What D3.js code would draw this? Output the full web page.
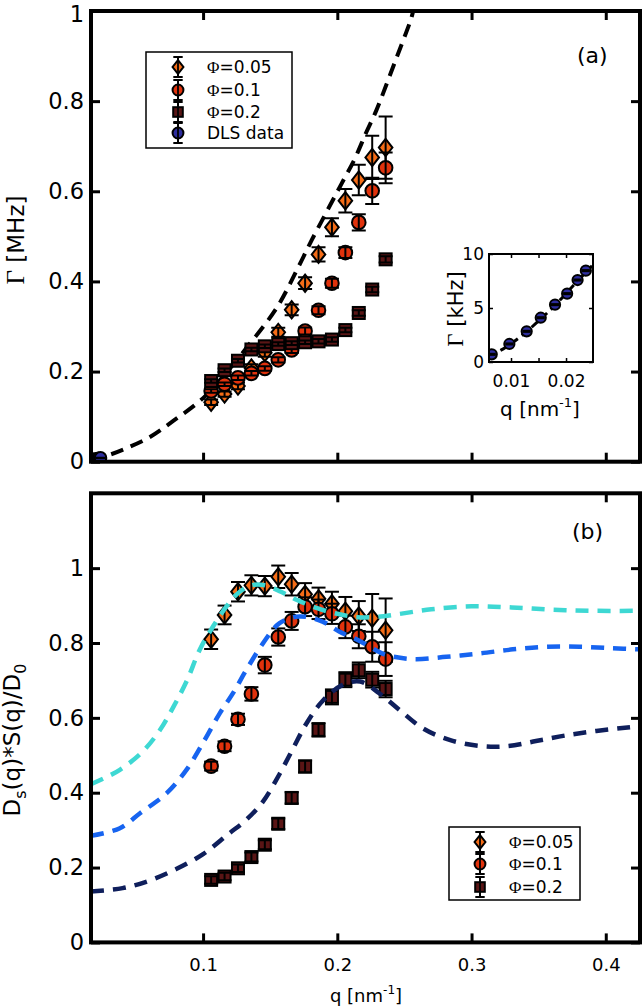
<!DOCTYPE html>
<html><head><meta charset="utf-8">
<script src="https://cdn.jsdelivr.net/npm/d3@7"></script>
<style>body{margin:0;background:#fff}svg{display:block}text{font-family:"DejaVu Sans",sans-serif;fill:#000}</style>
</head><body><svg id="chart" width="642" height="1007"></svg>
<script>
// ---------- data ----------
const qData = [0.106,0.116,0.126,0.136,0.146,0.156,0.166,0.176,0.186,0.196,0.206,0.216,0.226,0.236];
// panel (a): relaxation rate Gamma [MHz]
const gamma005 = [0.132,0.150,0.168,0.208,0.242,0.287,0.337,0.396,0.460,0.520,0.579,0.625,0.675,0.697];
const gamma005Err = [0.006,0.006,0.007,0.008,0.009,0.010,0.012,0.013,0.016,0.020,0.026,0.034,0.048,0.069];
const gamma01 = [0.157,0.172,0.186,0.196,0.207,0.226,0.248,0.290,0.336,0.396,0.464,0.531,0.601,0.652];
const gamma01Err = [0.004,0.004,0.005,0.005,0.005,0.006,0.007,0.008,0.009,0.010,0.012,0.018,0.029,0.034];
const gamma02 = [0.179,0.203,0.224,0.249,0.256,0.261,0.263,0.265,0.267,0.271,0.292,0.330,0.382,0.449];
const gamma02Err = [0.004,0.004,0.004,0.004,0.004,0.004,0.004,0.004,0.005,0.005,0.005,0.006,0.006,0.007];
// free diffusion (dashed) in panel (a)
const freeQ = [0.0165,0.030,0.043,0.060,0.078,0.100,0.118,0.133,0.155,0.171,0.181,0.1925,0.203,0.213,0.2216,0.229,0.2442,0.2549,0.2565];
const freeGamma = [0.004,0.015,0.030,0.054,0.091,0.141,0.200,0.255,0.342,0.432,0.492,0.557,0.616,0.672,0.731,0.779,0.897,0.982,1.0];
// DLS data [kHz]
const dlsQ = [0.0065,0.0097,0.01285,0.0154,0.0180,0.0202,0.0221,0.0236];
const dlsGamma = [0.71,1.67,2.84,4.10,5.31,6.33,7.59,8.46];
const dlsErr = [0.05,0.05,0.05,0.05,0.05,0.05,0.05,0.05];
const dlsFitQ = [0.006,0.009,0.012,0.015,0.018,0.021,0.0249];
const dlsFitGamma = [0.50,1.35,2.45,3.80,5.25,6.90,9.00];
// panel (b): Ds(q)*S(q)/D0
const ds005 = [0.810,0.875,0.937,0.954,0.952,0.977,0.957,0.930,0.918,0.905,0.885,0.872,0.866,0.834];
const ds005Err = [0.026,0.025,0.026,0.027,0.027,0.030,0.030,0.030,0.030,0.032,0.038,0.040,0.065,0.085];
const ds01 = [0.471,0.524,0.596,0.664,0.741,0.816,0.859,0.897,0.890,0.878,0.843,0.818,0.790,0.757];
const ds01Err = [0.012,0.013,0.015,0.018,0.022,0.023,0.024,0.025,0.026,0.027,0.030,0.032,0.040,0.045];
const ds02 = [0.167,0.176,0.198,0.228,0.261,0.317,0.386,0.470,0.568,0.656,0.702,0.727,0.702,0.677];
const ds02Err = [0.010,0.010,0.010,0.012,0.012,0.014,0.015,0.016,0.018,0.020,0.020,0.021,0.021,0.022];
// theory curves (dashed) in panel (b)
const cyanQ = [0.0165,0.027,0.038,0.055,0.068,0.078,0.088,0.0975,0.1074,0.1173,0.125,0.135,0.145,0.158,0.170,0.185,0.200,0.215,0.230,0.245,0.270,0.300,0.330,0.360,0.390,0.4255];
const cyanV = [0.423,0.440,0.461,0.510,0.568,0.630,0.700,0.782,0.844,0.897,0.930,0.953,0.955,0.937,0.915,0.893,0.878,0.869,0.870,0.877,0.890,0.898,0.895,0.889,0.886,0.886];
const blueQ = [0.0165,0.038,0.053,0.0727,0.0876,0.1012,0.1124,0.1223,0.1322,0.1446,0.157,0.172,0.189,0.2017,0.217,0.229,0.2365,0.2563,0.2812,0.3059,0.3308,0.3557,0.3805,0.4052,0.4255];
const blueV = [0.285,0.305,0.345,0.398,0.461,0.541,0.612,0.666,0.728,0.799,0.853,0.871,0.857,0.830,0.805,0.780,0.768,0.757,0.763,0.772,0.783,0.790,0.790,0.786,0.783];
const navyQ = [0.0165,0.040,0.060,0.080,0.100,0.119,0.132,0.1446,0.157,0.167,0.177,0.189,0.204,0.217,0.2315,0.2464,0.2637,0.2836,0.306,0.326,0.348,0.370,0.393,0.418,0.4255];
const navyV = [0.136,0.145,0.165,0.196,0.236,0.290,0.327,0.376,0.450,0.518,0.585,0.645,0.688,0.697,0.665,0.621,0.572,0.541,0.525,0.524,0.538,0.553,0.565,0.575,0.578];
// ticks & labels
const xTicks = [0.1,0.2,0.3,0.4];
const yTicksA = [0,0.2,0.4,0.6,0.8,1];
const yTicksB = [0,0.2,0.4,0.6,0.8,1];
const insetXTicks = [0.01,0.015,0.02];
const insetXLabels = [0.01,0.02];
const insetYTicks = [0,5,10];
const legendLabels = ["=0.05","=0.1","=0.2","DLS data"];

// ---------- styles ----------
const C = {dia:"#f46c17", cir:"#e0320c", sq:"#5a1515", dls:"#2d2d9e", cyan:"#3ed8d3", blue:"#1764f0", navy:"#0f1f5c"};

const svg = d3.select("#chart");
const X0 = 91, X1 = 640;
const x = d3.scaleLinear().domain([0.0165,0.4255]).range([X0,X1]);
const yA = d3.scaleLinear().domain([0,1]).range([461.7,11]);
const yB = d3.scaleLinear().domain([0,1.2]).range([942.4,493.3]);

const defs = svg.append("defs");
function clip(id,x0,y0,x1,y1){defs.append("clipPath").attr("id",id).append("rect").attr("x",x0).attr("y",y0).attr("width",x1-x0).attr("height",y1-y0);}
clip("clipA",X0,yA.range()[1],X1,yA.range()[0]);
clip("clipB",X0,yB.range()[1],X1,yB.range()[0]);

function diamondPath(cx,cy,hw,hh){return `M${cx},${cy-hh}L${cx+hw},${cy}L${cx},${cy+hh}L${cx-hw},${cy}Z`;}
function marker(g,shape,cx,cy,fill,s){
  if(shape==="dia") g.append("path").attr("d",diamondPath(cx,cy,6.8*s,8.6*s)).attr("fill",fill).attr("stroke","#000").attr("stroke-width",2);
  else if(shape==="cir") g.append("circle").attr("cx",cx).attr("cy",cy).attr("r",6.8*s).attr("fill",fill).attr("stroke","#000").attr("stroke-width",2);
  else g.append("rect").attr("x",cx-6*s).attr("y",cy-6*s).attr("width",12*s).attr("height",12*s).attr("fill",fill).attr("stroke","#000").attr("stroke-width",2);
}
function errbar(g,cx,yLo,yHi,hw,w){
  g.append("line").attr("x1",cx).attr("x2",cx).attr("y1",yLo).attr("y2",yHi).attr("stroke","#000").attr("stroke-width",w);
  [yLo,yHi].forEach(yy=>g.append("line").attr("x1",cx-hw).attr("x2",cx+hw).attr("y1",yy).attr("y2",yy).attr("stroke","#000").attr("stroke-width",w));
}
function series(g,xs,qs,vs,es,ys,shape,fill,s,capHw){
  const gg=g.append("g");
  qs.forEach((q,i)=>{
    marker(gg,shape,xs(q),ys(vs[i]),fill,s);
    errbar(gg,xs(q),ys(vs[i]-es[i]),ys(vs[i]+es[i]),capHw,2);
  });
}
function dashed(g,xs,ys,qs,vs,color,w,dash){
  const line=d3.line().x(d=>xs(d[0])).y(d=>ys(d[1])).curve(d3.curveCatmullRom.alpha(0.5));
  g.append("path").datum(qs.map((q,i)=>[q,vs[i]])).attr("d",line).attr("fill","none")
   .attr("stroke",color).attr("stroke-width",w).attr("stroke-dasharray",dash);
}
function axes(ys,yTicks,showXLabels){
  const [yb,yt]=ys.range();
  const st=g=>{g.select(".domain").remove();g.selectAll(".tick line").attr("stroke","#000").attr("stroke-width",3);};
  svg.append("g").attr("transform",`translate(${X0},0)`)
    .call(d3.axisLeft(ys).tickValues(yTicks).tickSize(-9).tickPadding(7).tickFormat(d3.format("~g")))
    .call(st).call(g=>g.selectAll("text").attr("font-size",22.5).attr("font-family","DejaVu Sans")
      .attr("dy",d=>(ys(d)<30?"0.48em":"0.32em")));
  svg.append("g").attr("transform",`translate(${X1},0)`)
    .call(d3.axisRight(ys).tickValues(yTicks).tickSize(-9).tickFormat(""))
    .call(st);
  svg.append("g").attr("transform",`translate(0,${yt})`)
    .call(d3.axisTop(x).tickValues(xTicks).tickSize(-9).tickFormat(""))
    .call(st);
  svg.append("g").attr("transform",`translate(0,${yb})`)
    .call(d3.axisBottom(x).tickValues(xTicks).tickSize(-9).tickPadding(16).tickFormat(showXLabels?d3.format("~g"):""))
    .call(st).call(g=>g.selectAll("text").attr("font-size",18).attr("font-family","DejaVu Sans"));
  svg.append("rect").attr("x",X0).attr("y",yt).attr("width",X1-X0).attr("height",yb-yt)
    .attr("fill","none").attr("stroke","#000").attr("stroke-width",4);
}

// ---------- panel (a) ----------
const gA = svg.append("g").attr("clip-path","url(#clipA)");
dashed(gA,x,yA,freeQ,freeGamma,"#000",4,"13,8");
series(gA,x,qData,gamma005,gamma005Err,yA,"dia",C.dia,1,7);
series(gA,x,qData,gamma01,gamma01Err,yA,"cir",C.cir,1,7);
series(gA,x,qData,gamma02,gamma02Err,yA,"sq",C.sq,1,7);
series(gA,x,dlsQ,dlsGamma.map(v=>v/1000),dlsErr.map(v=>v/1000),yA,"cir",C.dls,0.85,5);
axes(yA,yTicksA,false);

// legend (a)
const legA = svg.append("g");
legA.append("rect").attr("x",146).attr("y",52).attr("width",146).attr("height",96).attr("fill","#fff").attr("stroke","#000").attr("stroke-width",1.5);
const legRowsA=[67,90,112,133];
const legShapes=["dia","cir","sq","cir"], legFills=[C.dia,C.cir,C.sq,C.dls];
legRowsA.forEach((yy,i)=>{
  errbar(legA,178,yy-10,yy+10,4.5,1.8);
  marker(legA,legShapes[i],178,yy,legFills[i],0.8);
  errbar(legA,178,yy-10,yy+10,4.5,1.8);
  const t=legA.append("text").attr("x",207).attr("y",yy+6).attr("font-size",17);
  if(i<3){t.append("tspan").attr("font-family","Liberation Serif").attr("font-size",17).text("Φ");}
  t.append("tspan").text(legendLabels[i]);
});
svg.append("text").attr("x",577).attr("y",63).attr("font-size",22).text("(a)");
// y label (a)
const ylA = svg.append("text").attr("transform","translate(24,240) rotate(-90)").attr("text-anchor","middle").attr("font-size",23);
ylA.append("tspan").attr("font-family","Liberation Serif").attr("font-size",25).text("Γ");
ylA.append("tspan").text(" [MHz]");

// inset
const xi = d3.scaleLinear().domain([0.006,0.0249]).range([489,593]);
const yi = d3.scaleLinear().domain([0,10]).range([362,254]);
defs.append("clipPath").attr("id","clipI").append("rect").attr("x",489).attr("y",254).attr("width",104).attr("height",108);
svg.append("rect").attr("x",489).attr("y",254).attr("width",104).attr("height",108).attr("fill","#fff");
const gI = svg.append("g").attr("clip-path","url(#clipI)");
dashed(gI,xi,yi,dlsFitQ,dlsFitGamma,"#000",3,"8,5");
series(gI,xi,dlsQ,dlsGamma,dlsErr,yi,"cir",C.dls,0.75,4);
const sti=g=>{g.select(".domain").remove();g.selectAll(".tick line").attr("stroke","#000").attr("stroke-width",1.5);g.selectAll("text").attr("font-size",17).attr("font-family","DejaVu Sans");};
svg.append("g").attr("transform","translate(489,0)").call(d3.axisLeft(yi).tickValues(insetYTicks).tickSize(-4).tickPadding(5)).call(sti);
svg.append("g").attr("transform","translate(593,0)").call(d3.axisRight(yi).tickValues(insetYTicks).tickSize(-4).tickFormat("")).call(sti);
svg.append("g").attr("transform","translate(0,254)").call(d3.axisTop(xi).tickValues(insetXTicks).tickSize(-4).tickFormat("")).call(sti);
svg.append("g").attr("transform","translate(0,362)").call(d3.axisBottom(xi).tickValues(insetXTicks).tickSize(-4).tickPadding(13).tickFormat(d=>insetXLabels.includes(d)?d3.format("~g")(d):"")).call(sti);
svg.append("rect").attr("x",489).attr("y",254).attr("width",104).attr("height",108).attr("fill","none").attr("stroke","#000").attr("stroke-width",2);
const ylI = svg.append("text").attr("transform","translate(463,309) rotate(-90)").attr("text-anchor","middle").attr("font-size",21);
ylI.append("tspan").attr("font-family","Liberation Serif").attr("font-size",23).text("Γ");
ylI.append("tspan").text(" [kHz]");
const xlI = svg.append("text").attr("x",540).attr("y",416).attr("text-anchor","middle").attr("font-size",20);
xlI.append("tspan").text("q [nm");
xlI.append("tspan").attr("font-size",13).attr("dy",-9).text("-1");
xlI.append("tspan").attr("dy",9).text("]");

// ---------- panel (b) ----------
const gB = svg.append("g").attr("clip-path","url(#clipB)");
series(gB,x,qData,ds005,ds005Err,yB,"dia",C.dia,1,7);
series(gB,x,qData,ds01,ds01Err,yB,"cir",C.cir,1,7);
series(gB,x,qData,ds02,ds02Err,yB,"sq",C.sq,1,7);
dashed(gB,x,yB,cyanQ,cyanV,C.cyan,4.5,"13,9");
dashed(gB,x,yB,blueQ,blueV,C.blue,4.5,"13,9");
dashed(gB,x,yB,navyQ,navyV,C.navy,4.5,"13,9");
axes(yB,yTicksB,true);

const legB = svg.append("g");
legB.append("rect").attr("x",449).attr("y",827).attr("width",131).attr("height",73).attr("fill","#fff").attr("stroke","#000").attr("stroke-width",1.5);
[842,864,887].forEach((yy,i)=>{
  errbar(legB,480,yy-10,yy+10,4.5,1.8);
  marker(legB,legShapes[i],480,yy,legFills[i],0.8);
  errbar(legB,480,yy-10,yy+10,4.5,1.8);
  const t=legB.append("text").attr("x",509).attr("y",yy+6).attr("font-size",17);
  t.append("tspan").attr("font-family","Liberation Serif").text("Φ");
  t.append("tspan").text(legendLabels[i]);
});
svg.append("text").attr("x",572).attr("y",539).attr("font-size",22).text("(b)");
const ylB = svg.append("text").attr("transform","translate(20,740) rotate(-90)").attr("text-anchor","middle").attr("font-size",23);
ylB.append("tspan").text("D");
ylB.append("tspan").attr("font-size",16).attr("dy",6).text("s");
ylB.append("tspan").attr("dy",-6).text("(q)*S(q)/D");
ylB.append("tspan").attr("font-size",16).attr("dy",6).text("0");
const xlB = svg.append("text").attr("x",366).attr("y",1002).attr("text-anchor","middle").attr("font-size",18);
xlB.append("tspan").text("q [nm");
xlB.append("tspan").attr("font-size",12).attr("dy",-8).text("-1");
xlB.append("tspan").attr("dy",8).text("]");
</script></body></html>
